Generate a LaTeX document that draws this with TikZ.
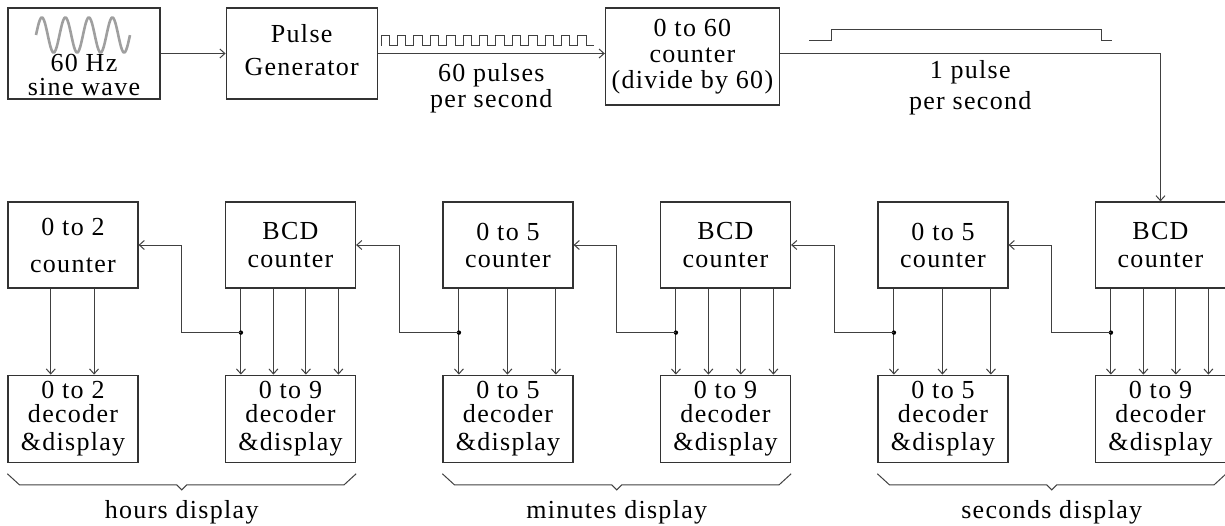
\documentclass[tikz,border=0pt]{standalone}
\usepackage{fontspec}
\setmainfont{Liberation Serif}[LetterSpace=5]
\usetikzlibrary{arrows.meta, positioning, calc}

\begin{document}
\begin{tikzpicture}[
  x=0.5pt, y=-0.5pt,
  font=\fontsize{13}{14}\selectfont,
  node distance=43.15pt,
  box/.style={
    draw=black!80, line width=0.6pt,
    minimum width=65pt, minimum height=43pt,
    inner sep=0pt, align=center
  },
  dec/.style={box, minimum height=43.5pt},
  arr/.style={-{Straight Barb[length=2.5pt, width=4.5pt]}, line width=0.5pt, draw=black!75},
  wire/.style={line width=0.5pt, draw=black!75}
]
  \useasboundingbox (0,0) rectangle (1225,525);

  % top row
  \node[box, minimum width=76pt, minimum height=45.5pt] (wave) at (84,53.5) {};
  \node[align=center] (wavetxt) at (84,75) {60 Hz\\[-2pt]sine wave};
  \draw[gray!75, line width=1.3pt] plot[domain=0:4, samples=121, smooth]
    ({36+23.5*\x}, {35-17.5*sin(360*\x)});
  \node[box, minimum width=75.5pt, minimum height=45.5pt, right=32.5pt of wave] (pulsegen)
    {Pulse\\[2.5pt]Generator\rule[-4pt]{0pt}{0pt}};
  \node[box, minimum width=87pt, minimum height=48.5pt,
        right=113.5pt of pulsegen.north east, anchor=north west] (div60)
    {0 to 60\\[-1pt]counter\\[-1pt](divide by 60)};

  % pulse shapes
  \foreach \i in {0,...,12}
    \draw[wire] ({381+16.4*\i},45.5) -- ++(0,-10.5) -- ++(8.5,0) -- ++(0,10.5) -- ++(7.9,0);
  \draw[wire] (809,40) -- (831,40) -- (831,29) -- (1101,29) -- (1101,40) -- (1112,40);

  % counters
  \node[box] (c2) at (73,245) {0 to 2\\[4.5pt]counter};
  \node[box, right=of c2] (c9h) {BCD\\counter};
  \node[box, right=of c9h] (c5m) {0 to 5\\[-0.5pt]counter};
  \node[box, right=of c5m] (c9m) {BCD\\counter};
  \node[box, right=of c9m] (c5s) {0 to 5\\[-0.5pt]counter};
  \node[box, right=of c5s] (c9s) {BCD\\counter};

  % decoders
  \node[dec, below=43pt of c2] (d2) {0 to 2\\[-1.75pt]decoder\\\&display};
  \node[dec, below=43pt of c9h] (d9h) {0 to 9\\[-1.75pt]decoder\\\&display};
  \node[dec, below=43pt of c5m] (d5m) {0 to 5\\[-1.75pt]decoder\\\&display};
  \node[dec, below=43pt of c9m] (d9m) {0 to 9\\[-1.75pt]decoder\\\&display};
  \node[dec, below=43pt of c5s] (d5s) {0 to 5\\[-1.75pt]decoder\\\&display};
  \node[dec, below=43pt of c9s] (d9s) {0 to 9\\[-1.75pt]decoder\\\&display};

  \draw[arr] (wave) -- (pulsegen);
  \draw[arr] (pulsegen) -- (pulsegen -| div60.west)
    node[midway, below=1.5pt, align=center] (rate60) {60 pulses\\[-1pt]per second};
  \draw[arr] (pulsegen.east -| div60.east) -| (c9s.north)
    node[pos=0.25, below=0pt, align=center] (rate1) {1 pulse\\[1.5pt]per second};

  % counter outputs
  \foreach \c/\d in {c9h/d9h, c9m/d9m, c9s/d9s}
    \foreach \k in {8, 24.25, 40.5, 56.75}
      \draw[arr] ([xshift=\k pt]\c.south west) -- ([xshift=\k pt]\d.north west);
  \foreach \c/\d in {c5m/d5m, c5s/d5s}
    \foreach \k in {8.25, 32.5, 56.75}
      \draw[arr] ([xshift=\k pt]\c.south west) -- ([xshift=\k pt]\d.north west);
  \foreach \k in {21.67, 43.33}
    \draw[arr] ([xshift=\k pt]c2.south west) -- ([xshift=\k pt]d2.north west);

  % carries
  \foreach \src/\dst/\sh in {c9h/c2/8, c5m/c9h/8.25, c9m/c5m/8, c5s/c9m/8.25, c9s/c5s/8} {
    \coordinate (j-\src) at ([xshift=\sh pt, yshift=-22pt]\src.south west);
    \fill (j-\src) circle[radius=1.1pt];
    \draw[arr] (j-\src) -| ($(\dst.east)!0.5!(\src.west)$) -- (\dst.east);
  }

  % braces
  \foreach \a/\b/\t in {d2/d9h/hours, d5m/d9m/minutes, d5s/d9s/seconds} {
    \coordinate (\t-l) at ([yshift=-5.5pt]\a.south west);
    \coordinate (\t-r) at ([yshift=-5.5pt]\b.south east);
    \coordinate (\t-m) at ($(\t-l)!0.5!(\t-r)+(0,16)$);
    \draw[wire] (\t-l) -- ++(12,11) -- ($(\t-m)+(-5,-5)$) -- (\t-m)
      -- ($(\t-m)+(5,-5)$) -- ($(\t-r)+(-12,11)$) -- (\t-r);
    \node[below=2pt of \t-m] (\t-lbl) {\t\ display};
  }
\end{tikzpicture}
\end{document}
